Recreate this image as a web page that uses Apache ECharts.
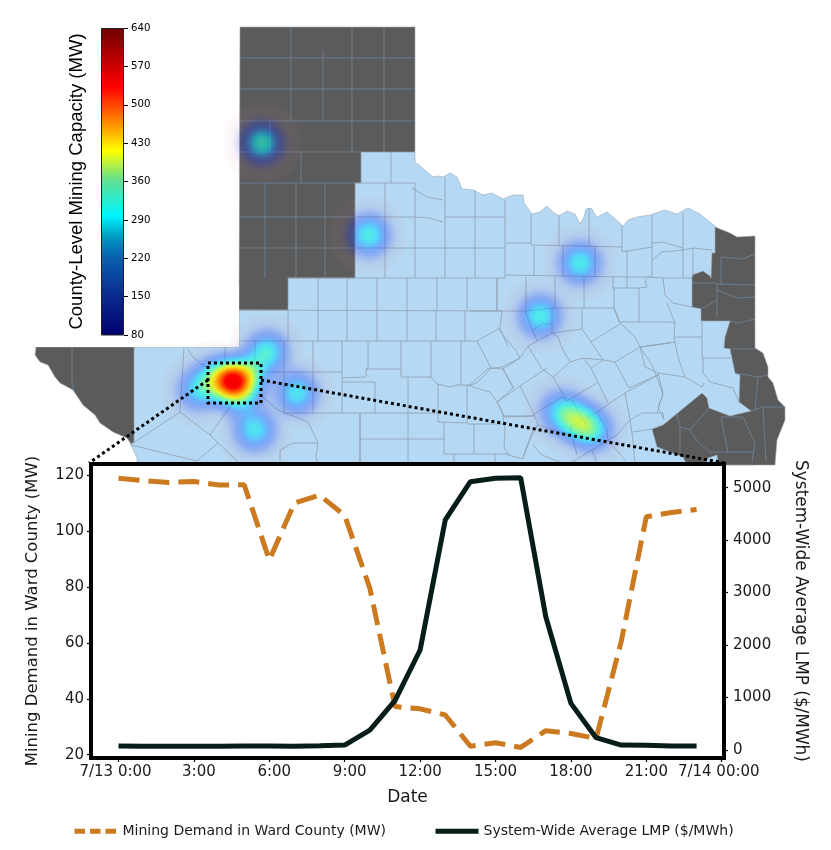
<!DOCTYPE html>
<html><head><meta charset="utf-8">
<style>html,body{margin:0;padding:0;background:#fff}#c{width:831px;height:850px}</style>
<script src="https://cdn.jsdelivr.net/npm/echarts@6/dist/echarts.min.js"></script>
</head><body><div id="c"></div>
<script>
/* ---------- line chart data ---------- */
const hours = [0,1,2,3,4,5,6,7,8,9,10,11,12,13,14,15,16,17,18,19,20,21,22,23];
const wardDemand = [118.8,118,117.3,117.7,116.4,116.5,89.6,110,112.8,105.5,79.5,37.2,36.4,34.2,23,24.3,22.6,28.6,27.6,25.8,60.4,105.1,106.6,107.7];
const systemLmp = [76,74,74,74,74,76,76,74,80,95,381,940,1906,4384,5114,5178,5190,2541,889,235,95,89,76,76];
const xTickValues = [0,3,6,9,12,15,18,21,24];
const xTickLabels = ['7/13 0:00','3:00','6:00','9:00','12:00','15:00','18:00','21:00','7/14 00:00'];
const leftTicks = [20,40,60,80,100,120];
const rightTicks = [0,1000,2000,3000,4000,5000];
const colorbarTicks = [80,150,220,290,360,430,500,570,640];
const seriesNames = ['Mining Demand in Ward County (MW)','System-Wide Average LMP ($/MWh)'];

/* ---------- map data, in map units ---------- */
const ercotOutline = [[134,347],[239,347],[239,310],[288,310],[288,278],[355,278],[355,183],[361,183],[361,152],[415,152],[415,163],[418,164],[427,172],[433,177],[438,176],[443,177],[450,173],[457,177],[462,189],[473,190],[483,195],[492,193],[503,199],[513,195],[523,195],[524,203],[532,214],[540,212],[547,206],[553,212],[559,216],[567,211],[575,214],[580,224],[584,217],[586,209],[591,208],[597,217],[607,212],[613,217],[623,226],[628,220],[637,217],[650,215],[665,210],[677,214],[688,208],[700,214],[715,226],[750,300],[750,405],[755,465],[137,465],[137,458],[131,445]];
const darkPanhandle = [[240,27],[415,27],[415,152],[361,152],[361,183],[355,183],[355,278],[288,278],[288,310],[239,310]];
const darkWest = [[36,347],[134,347],[134,442],[131,444],[127,438],[113,432],[100,423],[95,415],[83,405],[73,390],[60,383],[55,377],[48,365],[40,362],[35,355]];
const darkEast = [[715,227],[730,233],[737,237],[755,236],[755,348],[763,353],[768,367],[768,377],[773,383],[778,400],[785,407],[785,420],[777,440],[775,465],[718,465],[717,455],[708,458],[705,465],[687,465],[683,457],[657,447],[652,429],[663,425],[702,393],[707,398],[709,408],[730,416],[751,411],[739,402],[740,375],[735,373],[730,349],[724,348],[725,337],[730,321],[701,321],[701,309],[692,307],[692,275],[703,271],[710,276],[711,278],[712,253],[715,253]];

const lightBorders = [
 [[391,152],[391,183]],[[356,183],[415,183]],[[385,183],[385,278]],[[412,188],[427,197],[443,200]],[[445,177],[445,278]],[[415,183],[415,278]],[[415,217],[430,218],[443,222]],[[355,217],[415,217]],[[445,217],[505,217]],[[356,248],[505,248]],[[475,190],[475,278]],[[505,200],[505,278]],[[288,278],[505,278]],
 [[318,278],[318,310]],[[347,278],[347,310]],[[377,278],[377,310]],[[407,278],[407,310]],[[437,278],[437,310]],[[467,278],[467,310]],[[497,278],[497,311]],
 [[239,310],[502,311]],[[288,310],[288,341]],[[318,310],[318,341]],[[347,310],[347,341]],[[377,310],[377,341]],[[407,310],[407,341]],[[436,310],[436,341]],[[465,310],[465,341]],[[239,341],[477,341]],
 [[477,341],[500,328],[502,311]],[[500,328],[508,347]],[[477,341],[491,368]],
 [[255,341],[255,372]],[[225,342],[225,363]],[[284,341],[284,413]],[[313,341],[313,413]],[[342,341],[342,413]],[[254,372],[342,372]],[[368,342],[368,369],[366,369],[366,377],[342,378]],[[342,382],[375,382],[375,413]],[[366,369],[401,369]],[[401,341],[401,377],[431,377],[437,384],[450,387],[457,385],[470,385]],[[431,341],[431,377]],[[461,341],[461,385]],[[408,377],[408,465]],[[438,385],[438,422]],[[438,422],[467,423],[467,385]],[[467,424],[503,424]],[[503,416],[535,416]],[[283,413],[438,413]],[[360,413],[360,465]],[[360,439],[444,439]],[[444,423],[444,454],[510,454]],[[474,424],[474,454]],[[454,454],[454,465]],[[495,454],[495,465]],
 [[467,385],[483,390],[490,392],[497,402],[502,412],[503,417],[505,430],[504,447],[508,455],[523,459],[527,446],[533,430],[538,425]],
 [[470,385],[487,369],[502,367],[513,388],[497,402]],[[502,367],[520,358],[517,352],[498,329]],
 [[470,311],[525,311],[552,308],[614,308],[619,322],[635,337],[640,347],[652,365],[658,380],[663,395],[658,407],[664,420]],
 [[526,277],[526,311]],[[555,277],[555,308]],[[584,277],[584,308]],[[497,278],[497,311]],[[614,288],[614,308]],
 [[520,358],[528,346],[552,333],[582,329],[591,342]],[[582,329],[582,308]],[[525,311],[537,341]],[[533,330],[542,324],[552,324]],[[552,308],[552,333]],
 [[528,346],[542,369],[553,377],[567,401]],[[552,333],[558,337],[562,348],[570,362],[553,377]],[[591,342],[620,324]],[[591,342],[603,360],[615,362],[640,347],[670,343]],[[570,362],[583,358],[603,360]],[[583,358],[591,368],[603,360]],[[591,368],[608,403]],[[615,362],[629,388],[658,375]],
 [[503,369],[491,368],[477,383],[470,385]],[[503,369],[514,388]],[[503,369],[520,358]],[[497,402],[520,386],[547,368]],[[520,386],[534,414]],[[497,402],[505,417]],[[505,417],[534,416]],[[534,414],[562,397],[567,401]],[[567,401],[597,383]],[[572,400],[588,427]],[[570,427],[597,412],[625,393],[658,375]],[[570,427],[577,455]],[[538,425],[534,414]],[[538,425],[570,435]],[[597,412],[607,430],[608,440],[592,450],[567,465]],[[625,393],[630,420],[633,440],[635,465]],[[608,440],[617,435],[630,420],[642,413],[663,413],[664,420]],
 [[523,457],[532,435],[538,425]],[[533,445],[542,455],[567,465]],[[592,450],[598,465]],[[608,440],[625,460]],[[633,432],[652,429]],
 [[531,214],[531,245]],[[506,243],[531,243]],[[534,246],[534,276]],[[506,275],[627,277]],[[559,215],[559,245]],[[589,208],[589,246]],[[531,245],[622,247]],[[563,246],[563,277]],[[595,246],[595,277]],[[622,226],[622,252]],[[622,252],[652,247]],[[627,250],[627,288]],[[613,277],[613,288]],[[613,288],[639,288]],[[639,288],[639,322]],[[614,308],[620,322],[670,322],[675,323]],
 [[652,215],[652,277]],[[652,260],[662,252],[683,250],[693,248],[712,250]],[[652,243],[663,242],[683,248]],[[683,213],[683,278]],[[693,248],[693,277]],[[639,288],[647,287],[645,280],[648,277],[663,278],[665,295],[673,303],[692,307]],[[663,278],[692,278]],[[627,277],[652,277]],
 [[667,303],[675,323],[674,337],[678,357],[685,377],[702,387],[704,383]],[[675,337],[702,337]],[[702,320],[702,358],[730,358]],[[703,358],[703,373],[710,382],[733,388],[739,402]],[[640,347],[675,342]],[[640,347],[645,367],[658,373],[685,377]],[[658,373],[663,393],[657,413]],
 [[184,347],[180,412]],[[180,412],[130,445]],[[180,412],[210,435],[241,465]],[[210,435],[233,402],[248,393]],[[131,445],[197,461],[218,443]],[[187,348],[193,357],[200,363],[207,367]],
 [[248,393],[260,395],[278,410],[308,422],[318,443],[293,443],[280,450],[280,465]],[[318,443],[316,457],[318,465]],[[360,413],[360,465]]
];
const darkBorders = [
 [[240,58],[415,58]],[[240,89],[415,89]],[[240,121],[415,121]],[[240,152],[361,152]],[[240,183],[355,183]],[[240,217],[355,217]],[[240,248],[355,248]],
 [[291,27],[291,121]],[[323,50],[323,121]],[[352,27],[352,152]],[[384,27],[384,152]],[[270,121],[270,152]],[[301,152],[301,183]],[[265,183],[265,278]],[[296,183],[296,278]],[[325,183],[325,278]],
 [[72,347],[72,382],[74,390]],
 [[721,257],[721,285]],[[721,257],[743,259],[755,254]],[[717,284],[755,285]],[[717,284],[717,317]],[[717,290],[737,298],[755,297]],[[692,283],[717,283]],[[701,309],[717,300]],[[730,321],[738,323],[755,319]],[[730,349],[755,349]],[[735,373],[758,377],[768,375]],[[758,377],[755,410]],[[751,411],[763,407],[785,407]],[[763,407],[766,462]],
 [[709,408],[690,430],[698,442],[710,452],[754,452]],[[677,415],[680,427],[680,453]],[[680,427],[690,430]],[[721,417],[743,417],[755,443],[752,462]],[[721,417],[728,453]]
];
const zoomBox = [[208,363],[261,363],[261,403],[208,403],[208,363]];
const zoomLeftLeader = [[208,380],[89,463]];
const zoomRightLeader = [[261,380],[725,463]];

/* heat sources: x, y, MW */
const heatSources = [[262,143,370],[369,235,365],[580,263,360],[540,316,365],[232,381,560],[216,378,320],[248,376,345],[240,396,290],[267,352,365],[297,393,350],[198,390,310],[255,430,350],[560,411,300],[576,420,350],[592,430,355]];

/* colour ramps */
const colorbarPositions = [0,0.125,0.255,0.32,0.39,0.505,0.6,0.7,0.81,1];
const colorbarColors = ['#000070','#0a2890','#0a60b0','#0099c0','#00f5ff','#5fe090','#ffff00','#ff8000','#ff0000','#6e0000'];
const heatRamp = ['#e09098','#9060b8','#4040d8','#2030e8','#1040f8','#1060ff','#0090ff','#00c8ff','#00f0e8','#30ffb8','#70ff80','#b0ff40','#f0f800','#ffc800','#ff9000','#ff5000','#ff0000','#f00000','#e00000','#b80000','#800000'];

const poly = (name, ring) => ({type:'Feature',properties:{name},geometry:{type:'Polygon',coordinates:[ring]}});
echarts.registerMap('texas',{type:'FeatureCollection',features:[poly('ERCOT',ercotOutline),poly('Panhandle',darkPanhandle),poly('West',darkWest),poly('East',darkEast)]});

const chart = echarts.init(document.getElementById('c'),null,{renderer:'canvas',width:831,height:850});
const LIGHT='#b5d9f5', DARK='#5b5b5b', ORANGE='#cc7a1f', INK='#071d1a';
const FONT='DejaVu Sans', TXT='#1a1a1a';
const lookup = v => { const i=xTickValues.indexOf(v); return i<0?'':(i===0||i===8?'{q|'+xTickLabels[i]+'}':(i<4?'{p|'+xTickLabels[i]+'}':xTickLabels[i])); };
const linesSeries = (data,color,width,type,z,polyline=true)=>({type:'lines',coordinateSystem:'geo',geoIndex:0,polyline,silent:true,z,data:data.map(c=>({coords:c})),lineStyle:{color,width,type,opacity:1,curveness:0},symbol:'none',animation:false});

chart.setOption({
 animation:false,
 backgroundColor:'#fff',
 geo:{map:'texas',roam:false,silent:true,z:1,aspectScale:1,
  projection:{project:p=>p,unproject:p=>p},
  boundingCoords:[[0,0],[831,850]],left:0,top:0,width:831,height:850,
  label:{show:false},
  itemStyle:{areaColor:LIGHT,borderColor:'#9aa7b2',borderWidth:0.6},
  regions:[{name:'Panhandle',itemStyle:{areaColor:DARK}},{name:'West',itemStyle:{areaColor:DARK}},{name:'East',itemStyle:{areaColor:DARK}}]},
 visualMap:[{type:'continuous',show:false,seriesIndex:2,min:80,max:640,
  inRange:{color:heatRamp}}],
 graphic:[{type:'rect',silent:true,z:3,shape:{x:30,y:285,width:209,height:62},style:{fill:'#fff'}}],
 grid:[{left:91,top:464,width:633,height:294,show:true,z:5,backgroundColor:'#fff',borderColor:'#000',borderWidth:4},
       {left:101,top:28,width:23,height:307,show:false,z:5}],
 xAxis:[
  {type:'value',gridIndex:0,z:6,min:-1.094,max:24.09,name:'Date',nameLocation:'middle',nameGap:31,nameTextStyle:{fontFamily:FONT,fontSize:17,color:TXT},
   splitLine:{show:false},axisLine:{show:false,onZero:false},
   axisTick:{show:true,length:4,customValues:xTickValues,lineStyle:{color:'#000',width:1.2}},
   axisLabel:{customValues:xTickValues,formatter:lookup,fontFamily:FONT,fontSize:15,color:TXT,margin:7,hideOverlap:false,
     rich:{p:{padding:[0,0,0,10],fontFamily:FONT,fontSize:15,color:TXT},q:{padding:[0,6,0,0],fontFamily:FONT,fontSize:15,color:TXT}}}},
  {type:'category',gridIndex:1,show:false,data:['capacity']}
 ],
 yAxis:[
  {type:'value',gridIndex:0,z:6,min:18.82,max:123.93,name:seriesNames[0],nameLocation:'middle',nameGap:50,nameRotate:90,nameMoveOverlap:false,nameTextStyle:{fontFamily:FONT,fontSize:16.5,color:TXT},
   splitLine:{show:false},axisLine:{show:false,onZero:false},
   axisTick:{show:true,length:4,customValues:leftTicks,lineStyle:{color:'#000',width:1.2}},
   axisLabel:{customValues:leftTicks,formatter:v=>String(v),fontFamily:FONT,fontSize:15,color:TXT,margin:7}},
  {type:'value',gridIndex:0,z:6,position:'right',min:-152,max:5451,name:seriesNames[1],nameLocation:'middle',nameGap:68,nameRotate:-90,nameMoveOverlap:false,nameTextStyle:{fontFamily:FONT,fontSize:16.9,color:TXT},
   splitLine:{show:false},axisLine:{show:false,onZero:false},
   axisTick:{show:true,length:4,customValues:rightTicks,lineStyle:{color:'#000',width:1.2}},
   axisLabel:{customValues:rightTicks,formatter:v=>String(v),fontFamily:FONT,fontSize:15,color:TXT,margin:9}},
  {type:'value',gridIndex:1,position:'right',z:11,min:80,max:640,splitLine:{show:false},axisLine:{show:false,onZero:false},
   axisTick:{show:true,length:4,customValues:colorbarTicks,lineStyle:{color:'#000',width:1}},
   axisLabel:{customValues:colorbarTicks,formatter:v=>String(v),fontFamily:FONT,fontSize:10.2,color:'#000',margin:7,hideOverlap:false,showMinLabel:true,showMaxLabel:true}},
  {type:'value',gridIndex:1,position:'left',z:11,min:80,max:640,name:'County-Level Mining Capacity (MW)',nameLocation:'middle',nameGap:15,nameRotate:90,
   nameTextStyle:{fontFamily:'Liberation Sans',fontSize:18.5,color:'#000'},
   splitLine:{show:false},axisLine:{show:false,onZero:false},axisTick:{show:false},axisLabel:{show:false}}
 ],
 legend:{left:72,top:824,padding:0,itemWidth:43,itemHeight:18,itemGap:47,
  textStyle:{fontFamily:FONT,fontSize:14,color:TXT},selectedMode:false,
  data:[{name:seriesNames[0],itemStyle:{opacity:0},lineStyle:{type:[10.5,5],width:5,color:ORANGE}},
        {name:seriesNames[1],itemStyle:{opacity:0},lineStyle:{type:'solid',width:5,color:INK}}]},
 tooltip:{show:false},
 series:[
  linesSeries(lightBorders,'#8f9fae',0.8,'solid',2),
  linesSeries(darkBorders,'#6f8599',0.8,'solid',2),
  {type:'heatmap',coordinateSystem:'geo',geoIndex:0,z:3,silent:true,pointSize:18,blurSize:20,minOpacity:0.05,maxOpacity:1.35,data:heatSources},
  linesSeries([zoomBox,zoomLeftLeader,zoomRightLeader],'#000',3,[3,3],4),
  {type:'bar',xAxisIndex:1,yAxisIndex:2,z:10,barWidth:'100%',silent:true,data:[640],
   itemStyle:{borderColor:'#222',borderWidth:1,color:{type:'linear',x:0,y:1,x2:0,y2:0,colorStops:colorbarPositions.map((p,i)=>({offset:p,color:colorbarColors[i]}))}}},
  {type:'line',name:seriesNames[0],xAxisIndex:0,yAxisIndex:0,z:7,symbol:'none',data:hours.map((h,i)=>[h,wardDemand[i]]),lineStyle:{color:ORANGE,width:5,type:[21,9]},itemStyle:{color:ORANGE}},
  {type:'line',name:seriesNames[1],xAxisIndex:0,yAxisIndex:1,z:8,symbol:'none',data:hours.map((h,i)=>[h,systemLmp[i]]),lineStyle:{color:INK,width:5},itemStyle:{color:INK}}
 ]
});
</script></body></html>
